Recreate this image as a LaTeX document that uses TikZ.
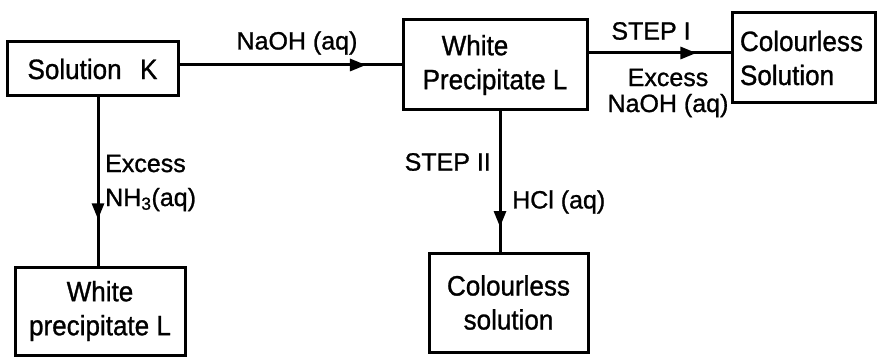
\documentclass[tikz,border=0pt]{standalone}
\usepackage{fontspec}
\setmainfont{Liberation Sans}[FakeBold=1]
\newfontfamily\boxfont{Liberation Sans}[FakeStretch=0.93,FakeBold=1]
\usetikzlibrary{arrows.meta,decorations.markings}
\begin{document}
\begin{tikzpicture}[x=1pt,y=-1pt,
  box/.style={draw, line width=3pt, inner sep=0pt, font=\boxfont\fontsize{28}{34}\selectfont, align=center},
  lab/.style={font=\fontsize{25}{29}\selectfont, inner sep=0pt},
  conn/.style={line width=3pt},
  midarrow/.style={postaction={decorate}, decoration={markings, mark=at position #1 with {\arrow{Triangle[length=16pt,width=12pt]}}}}
]
\useasboundingbox (0,0) rectangle (877,358);

\node[box, minimum width=171pt, minimum height=54pt] (K) at (92.5,69) {Solution\hspace{0.4em} K};
\node[box, minimum width=184pt, minimum height=90pt] (L) at (495,65) {White\hspace*{40pt}\\Precipitate L};
\node[box, minimum width=143pt, minimum height=90pt, text width=127pt, align=left] (CS) at (803.5,58) {Colourless\\Solution};
\node[box, minimum width=170pt, minimum height=88pt] (WP) at (100,311) {White\\precipitate L};
\node[box, minimum width=159pt, minimum height=99pt] (CS2) at (508.5,302.5) {Colourless\\solution};

\coordinate (a1) at ([yshift=12pt]L.east);
\coordinate (v1) at ([xshift=5.5pt]K.south);
\coordinate (v2) at ([xshift=5pt]L.south);

\draw[conn, midarrow=0.84] (K.east |- L.west) -- (L.west);
\draw[conn, midarrow=0.76] (a1) -- (CS.west |- a1);
\draw[conn, midarrow=0.725] (v1) -- (WP.north -| v1);
\draw[conn, midarrow=0.825] (v2) -- (CS2.north -| v2);

\node[lab] (naoh) at (297,43) {NaOH (aq)};
\node[lab] (st1) at (651,31) {STEP I};
\node[lab, align=center] (ex1) at (668,93) {Excess\\[-3pt]NaOH (aq)};
\node[lab, align=left, anchor=west] (ex2) at (105,183) {Excess\\[5pt]NH\textsubscript{3}(aq)};
\node[lab, anchor=east] (st2) at (491,162) {STEP II};
\node[lab, anchor=west] (hcl) at (512,202) {HCl (aq)};
\end{tikzpicture}
\end{document}
